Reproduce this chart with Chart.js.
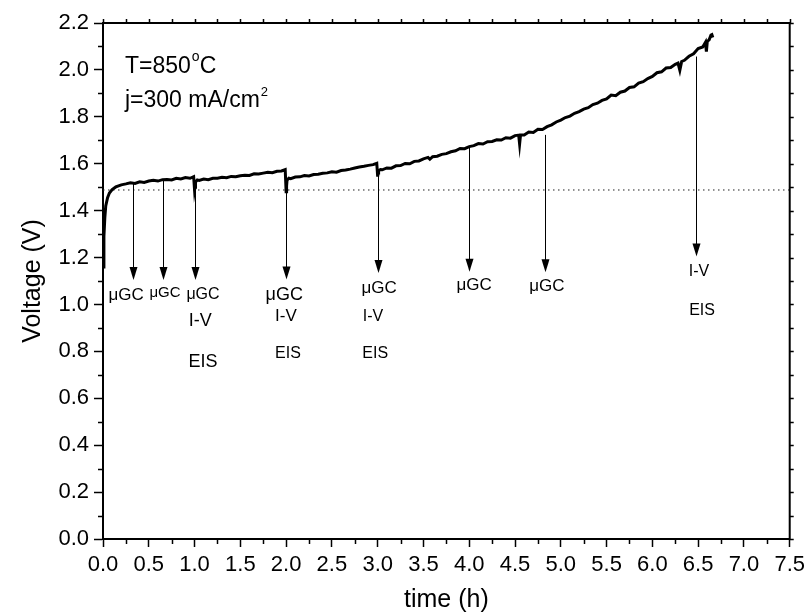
<!DOCTYPE html>
<html>
<head>
<meta charset="utf-8">
<script src="https://cdn.jsdelivr.net/npm/chart.js@4.4.0/dist/chart.umd.min.js"></script>
<style>
  html, body { margin: 0; padding: 0; background: #fff; }
  #wrap { width: 810px; height: 615px; }
</style>
</head>
<body>
<div id="wrap"><canvas id="chart" width="810" height="615"></canvas></div>
<script>
// time (h) and cell voltage (V)
const timeH = [
  0.00, 0.01, 0.02, 0.03, 0.05, 0.07, 0.10, 0.14, 0.20, 0.25, 0.30, 0.35, 0.40, 0.45, 0.50,
  0.55, 0.60, 0.65, 0.70, 0.75, 0.80, 0.85, 0.90, 0.95, 0.99, 1.00, 1.005, 1.01, 1.03, 1.05,
  1.10, 1.15, 1.20, 1.25, 1.30, 1.35, 1.40, 1.45, 1.50, 1.55, 1.60, 1.65, 1.70, 1.75, 1.80,
  1.85, 1.90, 1.95, 1.99, 2.00, 2.005, 2.01, 2.03, 2.05, 2.10, 2.15, 2.20, 2.25, 2.30, 2.35,
  2.40, 2.45, 2.50, 2.55, 2.60, 2.65, 2.70, 2.75, 2.80, 2.85, 2.90, 2.95, 2.99, 3.00, 3.005,
  3.01, 3.03, 3.05, 3.10, 3.15, 3.20, 3.25, 3.30, 3.35, 3.40, 3.45, 3.50, 3.55, 3.57, 3.60,
  3.65, 3.70, 3.75, 3.80, 3.85, 3.90, 3.95, 4.00, 4.05, 4.10, 4.15, 4.20, 4.25, 4.30, 4.35,
  4.40, 4.45, 4.50, 4.54, 4.55, 4.56, 4.60, 4.65, 4.70, 4.75, 4.80, 4.85, 4.90, 4.95, 5.00,
  5.05, 5.10, 5.15, 5.20, 5.25, 5.30, 5.35, 5.40, 5.45, 5.50, 5.55, 5.60, 5.65, 5.70, 5.75,
  5.80, 5.85, 5.90, 5.95, 6.00, 6.05, 6.10, 6.15, 6.20, 6.25, 6.28, 6.30, 6.32, 6.35, 6.40,
  6.45, 6.50, 6.55, 6.58, 6.59, 6.60, 6.62, 6.64, 6.65, 6.66
];
const voltage = [
  1.160, 1.290, 1.370, 1.420, 1.455, 1.475, 1.490, 1.501, 1.510, 1.514, 1.519, 1.516, 1.523, 1.520, 1.526,
  1.529, 1.526, 1.532, 1.533, 1.531, 1.538, 1.535, 1.541, 1.538, 1.545, 1.488, 1.500, 1.522, 1.531, 1.529,
  1.535, 1.532, 1.538, 1.538, 1.542, 1.540, 1.546, 1.545, 1.549, 1.551, 1.550, 1.557, 1.556, 1.560, 1.564,
  1.562, 1.568, 1.569, 1.575, 1.481, 1.505, 1.530, 1.538, 1.536, 1.543, 1.544, 1.550, 1.548, 1.554, 1.555,
  1.559, 1.561, 1.566, 1.564, 1.571, 1.573, 1.577, 1.582, 1.586, 1.589, 1.593, 1.596, 1.602, 1.545, 1.560,
  1.570, 1.575, 1.574, 1.582, 1.581, 1.591, 1.592, 1.601, 1.600, 1.610, 1.612, 1.621, 1.627, 1.619, 1.630,
  1.632, 1.640, 1.643, 1.651, 1.655, 1.665, 1.664, 1.673, 1.677, 1.686, 1.684, 1.694, 1.695, 1.702, 1.701,
  1.711, 1.709, 1.720, 1.722, 1.684, 1.722, 1.722, 1.735, 1.733, 1.747, 1.746, 1.758, 1.766, 1.778, 1.786,
  1.797, 1.803, 1.815, 1.822, 1.833, 1.839, 1.852, 1.858, 1.870, 1.876, 1.893, 1.890, 1.905, 1.910, 1.925,
  1.928, 1.944, 1.950, 1.963, 1.972, 1.988, 1.992, 2.008, 2.010, 2.024, 2.029, 1.998, 2.036, 2.041, 2.058,
  2.069, 2.091, 2.098, 2.118, 2.078, 2.122, 2.128, 2.148, 2.150, 2.138
];
const refVoltage = 1.488;

// arrows marking the measurements
const arrowTimes = [0.33, 0.66, 1.00, 2.00, 3.00, 4.00, 4.83, 6.48];
const arrowFrom  = [1.520, 1.531, 1.530, 1.530, 1.560, 1.668, 1.723, 2.057];
const arrowTo    = [1.104, 1.104, 1.104, 1.106, 1.134, 1.139, 1.137, 1.204];

// labels under the arrows
const noteText = ['\u03bcGC', '\u03bcGC', '\u03bcGC', 'I-V', 'EIS', '\u03bcGC', 'I-V', 'EIS',
                  '\u03bcGC', 'I-V', 'EIS', '\u03bcGC', '\u03bcGC', 'I-V', 'EIS'];
const noteTime = [0.252, 0.677, 1.092, 1.062, 1.092, 1.979, 1.998, 2.020,
                  3.016, 2.948, 2.973, 4.053, 4.847, 6.510, 6.543];
const noteVolt = [1.041, 1.048, 1.041, 0.931, 0.754, 1.041, 0.948, 0.789,
                  1.069, 0.948, 0.789, 1.080, 1.076, 1.140, 0.975];
const noteSize = [17, 15, 16, 18, 18, 18, 17, 16, 17, 16, 16, 17, 17, 16, 16];

const FONT = '"Liberation Sans", Arial, sans-serif';

const points = timeH.map((t, i) => ({ x: t, y: voltage[i] }));

// frame, minor ticks, mirrored ticks on top/right
const framePlugin = {
  id: 'frame',
  afterDraw(chart) {
    const ctx = chart.ctx;
    const a = chart.chartArea;
    const x = chart.scales.x;
    const y = chart.scales.y;
    ctx.save();
    ctx.strokeStyle = '#000';
    ctx.lineWidth = 2;
    ctx.beginPath();
    ctx.moveTo(a.left, a.top);
    ctx.lineTo(a.right, a.top);
    ctx.lineTo(a.right, a.bottom);
    ctx.stroke();

    ctx.lineWidth = 1.5;
    ctx.beginPath();
    for (let k = 0; k <= 30; k++) {
      const px = Math.round(x.getPixelForValue(k * 0.25)) + 0.5;
      if (k % 2 === 1) {
        ctx.moveTo(px, a.bottom);
        ctx.lineTo(px, a.bottom + 5);
      }
      ctx.moveTo(px, a.top);
      ctx.lineTo(px, a.top - 4);
    }
    for (let k = 0; k <= 22; k++) {
      const py = Math.round(y.getPixelForValue(k * 0.1)) + 0.5;
      if (k % 2 === 1) {
        ctx.moveTo(a.left, py);
        ctx.lineTo(a.left - 5, py);
      }
      ctx.moveTo(a.right, py);
      ctx.lineTo(a.right + 4, py);
    }
    ctx.stroke();
    ctx.restore();
  }
};

const notesPlugin = {
  id: 'notes',
  afterDatasetsDraw(chart) {
    const ctx = chart.ctx;
    const a = chart.chartArea;
    const x = chart.scales.x;
    const y = chart.scales.y;
    ctx.save();
    ctx.strokeStyle = '#000';
    ctx.fillStyle = '#000';
    ctx.lineWidth = 1;
    arrowTimes.forEach((t, i) => {
      const px = Math.round(x.getPixelForValue(t)) + 0.5;
      const y0 = y.getPixelForValue(arrowFrom[i]);
      const y1 = y.getPixelForValue(arrowTo[i]);
      ctx.beginPath();
      ctx.moveTo(px, y0);
      ctx.lineTo(px, y1 - 10);
      ctx.stroke();
      ctx.beginPath();
      ctx.moveTo(px - 4, y1 - 13);
      ctx.lineTo(px + 4, y1 - 13);
      ctx.lineTo(px, y1);
      ctx.closePath();
      ctx.fill();
    });

    ctx.textAlign = 'center';
    ctx.textBaseline = 'middle';
    noteText.forEach((s, i) => {
      ctx.font = noteSize[i] + 'px ' + FONT;
      ctx.fillText(s, x.getPixelForValue(noteTime[i]), y.getPixelForValue(noteVolt[i]));
    });

    // conditions
    ctx.textAlign = 'left';
    ctx.textBaseline = 'alphabetic';
    const lx = a.left + 22;
    ctx.font = '23px ' + FONT;
    let s = 'T=850';
    ctx.fillText(s, lx, a.top + 50);
    let w = ctx.measureText(s).width;
    ctx.font = '14px ' + FONT;
    ctx.fillText('o', lx + w + 1, a.top + 38);
    const wo = ctx.measureText('o').width;
    ctx.font = '23px ' + FONT;
    ctx.fillText('C', lx + w + wo + 1, a.top + 50);

    s = 'j=300 mA/cm';
    ctx.fillText(s, lx, a.top + 84);
    w = ctx.measureText(s).width;
    ctx.font = '13px ' + FONT;
    ctx.fillText('2', lx + w + 1, a.top + 73);
    ctx.restore();
  }
};

new Chart(document.getElementById('chart').getContext('2d'), {
  type: 'line',
  data: {
    datasets: [
      {
        data: points,
        borderColor: '#000',
        borderWidth: 3,
        pointRadius: 0,
        tension: 0,
      },
      {
        data: [{ x: 0, y: refVoltage }, { x: 7.5, y: refVoltage }],
        borderColor: '#222',
        borderWidth: 1,
        borderDash: [1.5, 3.5],
        pointRadius: 0,
      },
    ],
  },
  options: {
    responsive: false,
    animation: false,
    devicePixelRatio: 1,
    layout: { padding: { left: 0, top: 23, right: 20, bottom: 0 } },
    plugins: {
      legend: { display: false },
      tooltip: { enabled: false },
    },
    scales: {
      x: {
        type: 'linear',
        min: 0,
        max: 7.5,
        afterFit: (s) => { s.height = 76; },
        ticks: {
          stepSize: 0.5,
          color: '#000',
          padding: 5,
          maxRotation: 0,
          font: { family: FONT, size: 22 },
          callback: (v) => v.toFixed(1),
        },
        grid: { drawOnChartArea: false, tickLength: 8, tickColor: '#000', tickWidth: 1.5 },
        border: { color: '#000', width: 2 },
        title: {
          display: true,
          text: 'time (h)',
          color: '#000',
          font: { family: FONT, size: 25 },
          padding: { top: 3, bottom: 0 },
        },
      },
      y: {
        min: 0,
        max: 2.2,
        afterFit: (s) => { s.width = 103; },
        ticks: {
          stepSize: 0.2,
          color: '#000',
          padding: 5,
          font: { family: FONT, size: 22 },
          callback: (v) => v.toFixed(1),
        },
        grid: { drawOnChartArea: false, tickLength: 9, tickColor: '#000', tickWidth: 1.5 },
        border: { color: '#000', width: 2 },
        title: {
          display: true,
          text: 'Voltage (V)',
          color: '#000',
          font: { family: FONT, size: 25 },
          padding: { top: 18, bottom: 0 },
        },
      },
    },
  },
  plugins: [framePlugin, notesPlugin],
});
</script>
</body>
</html>
